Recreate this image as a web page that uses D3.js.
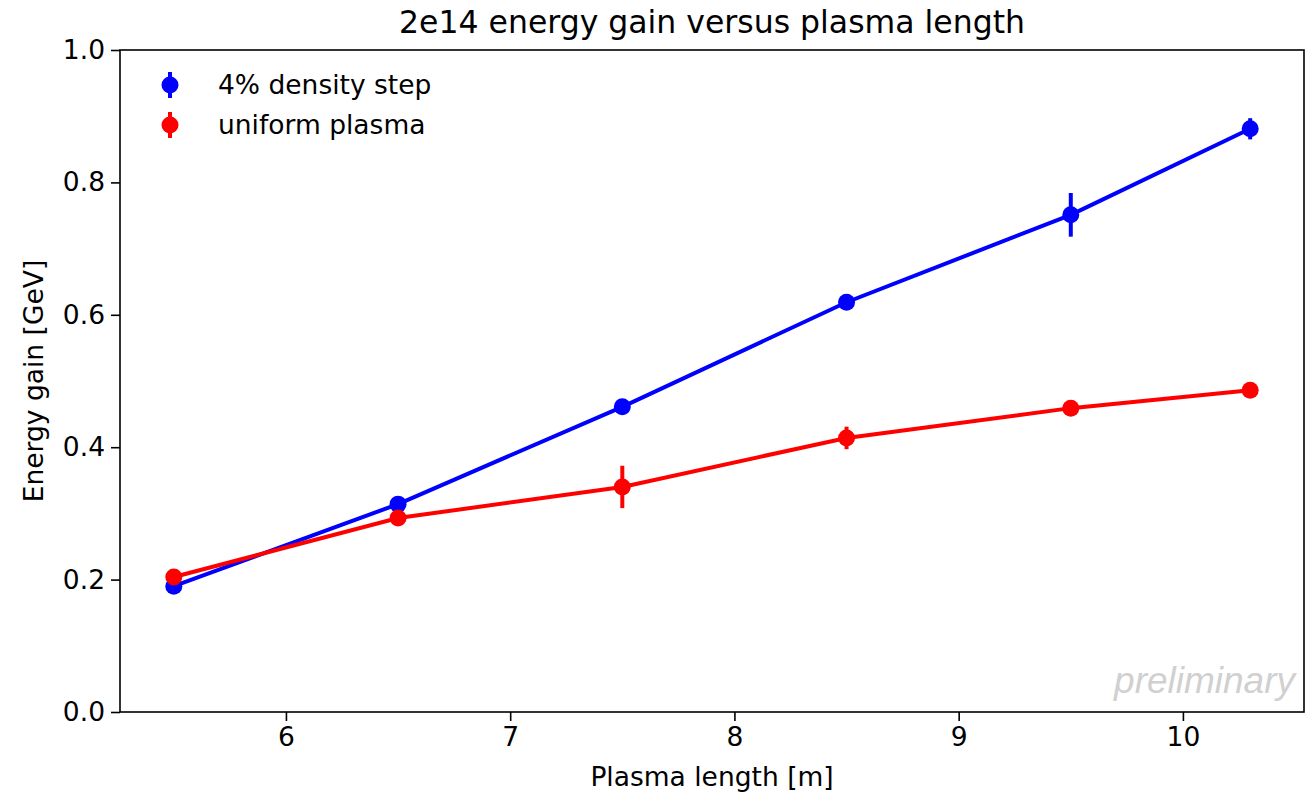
<!DOCTYPE html>
<html><head><meta charset="utf-8">
<script src="https://cdn.jsdelivr.net/npm/d3@7"></script>
<style>body{margin:0;background:#fff}svg{display:block}text{font-family:"DejaVu Sans",sans-serif}</style>
</head><body><svg id="c" width="1309" height="792"></svg>
<script>
const lengths = [5.5, 6.5, 7.5, 8.5, 9.5, 10.3];
const stepGain = [0.190, 0.314, 0.461, 0.619, 0.751, 0.881];
const stepErr = [0.005, 0.005, 0.005, 0.005, 0.033, 0.016];
const uniformGain = [0.204, 0.293, 0.340, 0.414, 0.459, 0.486];
const uniformErr = [0.004, 0.004, 0.032, 0.017, 0.004, 0.004];
const xTicks = [6, 7, 8, 9, 10];
const yTicks = [0.0, 0.2, 0.4, 0.6, 0.8, 1.0];
const seriesNames = ["4% density step", "uniform plasma"];
const seriesColors = ["#0000ff", "#ff0000"];

const svg = d3.select("#c");
const L = 120, R = 1304, T = 50, B = 712;
const x = d3.scaleLinear().domain([5.26, 10.54]).range([L, R]);
const y = d3.scaleLinear().domain([0, 1]).range([B, T]);

const series = [
  {name: seriesNames[0], color: seriesColors[0], vals: stepGain, errs: stepErr},
  {name: seriesNames[1], color: seriesColors[1], vals: uniformGain, errs: uniformErr}
];

const fs = 26.5;
// axes
const xa = svg.append("g").attr("transform", `translate(0,${B})`)
  .call(d3.axisBottom(x).tickValues(xTicks).tickFormat(d3.format("d")).tickSize(9).tickPadding(6));
const ya = svg.append("g").attr("transform", `translate(${L},0)`)
  .call(d3.axisLeft(y).tickValues(yTicks).tickFormat(d3.format(".1f")).tickSize(9).tickPadding(6));
[xa, ya].forEach(a => {
  a.select(".domain").remove();
  a.selectAll("line").attr("stroke", "#000").attr("stroke-width", 1.6);
  a.selectAll("text").attr("font-size", fs).attr("fill", "#000").style("font-family", "DejaVu Sans");
});
svg.append("rect").attr("x", L).attr("y", T).attr("width", R - L).attr("height", B - T)
  .attr("fill", "none").attr("stroke", "#000").attr("stroke-width", 1.6);

// series
series.forEach(s => {
  const g = svg.append("g");
  const line = d3.line().x((d, i) => x(lengths[i])).y(d => y(d));
  g.append("path").datum(s.vals).attr("d", line).attr("fill", "none")
    .attr("stroke", s.color).attr("stroke-width", 4);
  g.selectAll("line.err").data(s.vals).join("line")
    .attr("x1", (d, i) => x(lengths[i])).attr("x2", (d, i) => x(lengths[i]))
    .attr("y1", (d, i) => y(d - s.errs[i])).attr("y2", (d, i) => y(d + s.errs[i]))
    .attr("stroke", s.color).attr("stroke-width", 4);
  g.selectAll("circle").data(s.vals).join("circle")
    .attr("cx", (d, i) => x(lengths[i])).attr("cy", d => y(d)).attr("r", 8.5)
    .attr("fill", s.color);
});

// legend
series.forEach((s, i) => {
  const cy = 85 + i * 40;
  svg.append("line").attr("x1", 170).attr("x2", 170).attr("y1", cy - 13).attr("y2", cy + 13)
    .attr("stroke", s.color).attr("stroke-width", 4);
  svg.append("circle").attr("cx", 170).attr("cy", cy).attr("r", 8.5).attr("fill", s.color);
  svg.append("text").attr("x", 218).attr("y", cy + 9).attr("font-size", fs).text(s.name);
});

// labels
svg.append("text").attr("x", (L + R) / 2).attr("y", 33).attr("text-anchor", "middle")
  .attr("font-size", 31.5).text("2e14 energy gain versus plasma length");
svg.append("text").attr("x", (L + R) / 2).attr("y", 786).attr("text-anchor", "middle")
  .attr("font-size", fs).text("Plasma length [m]");
svg.append("text").attr("transform", `translate(43,${(T + B) / 2}) rotate(-90)`).attr("text-anchor", "middle")
  .attr("font-size", fs).text("Energy gain [GeV]");
svg.append("text").attr("x", 1295).attr("y", 693).attr("text-anchor", "end")
  .attr("font-size", 37).attr("font-style", "italic").attr("fill", "#d0d0d0")
  .style("font-family", "Liberation Sans").text("preliminary");
</script></body></html>
